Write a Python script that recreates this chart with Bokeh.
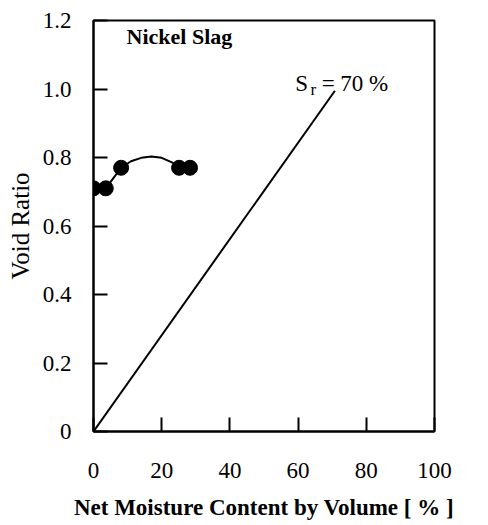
from bokeh.plotting import figure
from bokeh.models import Range1d, FixedTicker, Label
from bokeh.embed import file_html
from bokeh.resources import INLINE

# data
moisture = [0.0, 3.6, 8.1, 25.1, 28.3]
void_ratio = [0.71, 0.71, 0.77, 0.77, 0.77]
curve_x = [3.6, 6.0, 8.1, 11.0, 14.0, 17.0, 20.0, 23.0, 25.1]
curve_y = [0.71, 0.742, 0.77, 0.789, 0.799, 0.803, 0.799, 0.786, 0.771]
sr_x = [0.0, 70.8]
sr_y = [0.0, 0.995]
x_ticks = [0, 20, 40, 60, 80, 100]
y_ticks = [0, 0.2, 0.4, 0.6, 0.8, 1.0, 1.2]
y_tick_labels = ["0", "0.2", "0.4", "0.6", "0.8", "1.0", "1.2"]

FONT = "Liberation Serif"

p = figure(width=488, height=525, output_backend="svg", toolbar_location=None,
           x_range=Range1d(0, 100), y_range=Range1d(0, 1.2),
           min_border_left=93, min_border_right=54, min_border_top=20,
           min_border_bottom=94)
p.grid.visible = False
p.background_fill_color = "white"
p.border_fill_color = "white"
p.outline_line_color = "black"
p.outline_line_width = 2

for ax in (p.xaxis[0], p.yaxis[0]):
    ax.axis_line_width = 2
    ax.major_tick_line_width = 2
    ax.major_tick_in = 14
    ax.major_tick_out = 0
    ax.minor_tick_line_color = None
    ax.major_label_text_font = FONT
    ax.major_label_text_font_size = "23px"
    ax.major_label_text_color = "black"
    ax.axis_label_text_font = FONT
    ax.axis_label_text_color = "black"

p.xaxis.ticker = FixedTicker(ticks=x_ticks)
p.yaxis.ticker = FixedTicker(ticks=y_ticks)
p.yaxis.major_label_overrides = {t: l for t, l in zip(y_ticks, y_tick_labels)}
p.xaxis.major_label_standoff = 31
p.yaxis.major_label_standoff = 22
p.xaxis.axis_label = "Net Moisture Content by Volume [ % ]"
p.xaxis.axis_label_text_font_style = "bold"
p.xaxis.axis_label_text_font_size = "23px"
p.xaxis.axis_label_standoff = 14
p.yaxis.axis_label = "Void Ratio"
p.yaxis.axis_label_text_font_style = "normal"
p.yaxis.axis_label_text_font_size = "25px"
p.yaxis.axis_label_standoff = 6

p.line(sr_x, sr_y, line_color="black", line_width=2)
p.line(curve_x, curve_y, line_color="black", line_width=2)
p.scatter(moisture, void_ratio, size=15, fill_color="black", line_color="black")

p.add_layout(Label(x=9.7, y=1.152, text="Nickel Slag", text_color="black",
                   text_font=FONT, text_font_style="bold", text_font_size="22px",
                   text_baseline="middle", text_align="left"))
p.add_layout(Label(x=59.2, y=1.016, text="S", text_color="black", text_font=FONT,
                   text_font_size="23px", text_baseline="alphabetic"))
p.add_layout(Label(x=63.6, y=1.0, text="r", text_color="black", text_font=FONT,
                   text_font_size="17px", text_baseline="alphabetic"))
p.add_layout(Label(x=66.9, y=1.016, text="= 70  %", text_color="black", text_font=FONT,
                   text_font_size="23px", text_baseline="alphabetic"))

open("out.html", "w").write(file_html(p, INLINE))
